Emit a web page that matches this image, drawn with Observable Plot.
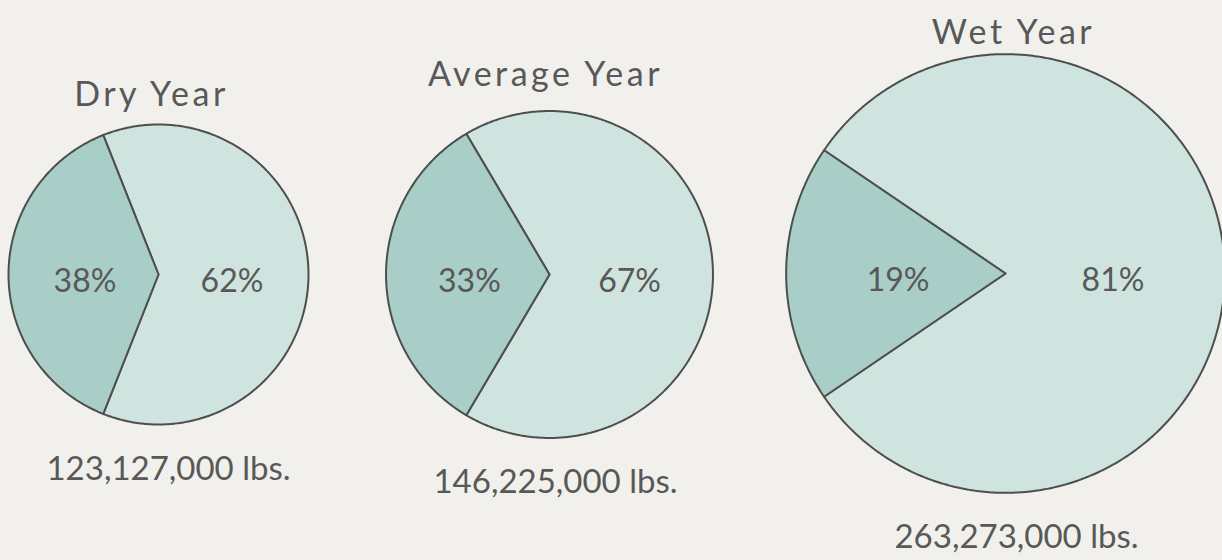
<!DOCTYPE html>
<html>
<head>
<meta charset="utf-8">
<script src="https://cdn.jsdelivr.net/npm/d3@7"></script>
<script src="https://cdn.jsdelivr.net/npm/@observablehq/plot@0.6"></script>
<style>
  html, body { margin: 0; padding: 0; background: #f1f0ec; }
  #chart { width: 1222px; height: 560px; overflow: hidden; }
  #chart svg g[font-size="34"] { letter-spacing: 3.5px; }
</style>
</head>
<body>
<div id="chart"></div>
<script>
// ---- data ----
const years = ["Dry Year", "Average Year", "Wet Year"];
const totals = [123127000, 146225000, 263273000];   // lbs
const smallShare = [38, 33, 19];                    // darker slice, %
const largeShare = [62, 67, 81];                    // lighter slice, %

// ---- layout (not data) ----
const W = 1222, H = 560;
const centerX = [158, 549, 1005];
const centerY = [274, 274, 273];
const baseRadius = 150;                 // radius of the smallest (dry) pie; area ∝ total
const titleX = [151, 545, 1013];
const titleBase = [105, 85, 43];
const amountX = [168, 555, 1016];
const light = "#cfe3df", dark = "#a9cdc7", ink = "#585858", edge = "#4d4f4f";
const titleSize = 34, labelSize = 32;

const pies = years.map((name, i) => {
  const r = baseRadius * Math.sqrt(totals[i] / totals[0]);
  return {name, i, cx: centerX[i], cy: centerY[i], r, total: totals[i]};
});

// slice outlines (dark slice centred on 9 o'clock)
const slicePoints = [];
const pctLabels = [];
pies.forEach(p => {
  const vals = [smallShare[p.i], largeShare[p.i]];
  const sum = d3.sum(vals);
  const start = -Math.PI / 2 - Math.PI * vals[0] / sum;
  const arcs = d3.pie().sort(null).startAngle(start).endAngle(start + 2 * Math.PI)(vals);
  arcs.forEach((a, k) => {
    const id = p.name + "-" + k;
    const kind = k === 0 ? "small" : "large";
    slicePoints.push({id, kind, x: p.cx, y: p.cy});
    const n = Math.max(8, Math.ceil((a.endAngle - a.startAngle) * 90));
    for (let j = 0; j <= n; j++) {
      const t = a.startAngle + (a.endAngle - a.startAngle) * j / n;
      slicePoints.push({id, kind, x: p.cx + p.r * Math.sin(t), y: p.cy - p.r * Math.cos(t)});
    }
    slicePoints.push({id, kind, x: p.cx, y: p.cy});
    const mid = (a.startAngle + a.endAngle) / 2;
    pctLabels.push({
      x: p.cx + 0.49 * p.r * Math.sin(mid),
      y: p.cy + 7,
      text: vals[k] + "%"
    });
  });
});

const titleRows = pies.map(p => ({x: titleX[p.i], y: titleBase[p.i] - 0.32 * titleSize, text: p.name}));
const amountRows = pies.map(p => ({
  x: amountX[p.i],
  y: p.cy + p.r + 55 - 0.32 * labelSize,
  text: d3.format(",")(p.total) + " lbs."
}));

const chart = Plot.plot({
  width: W,
  height: H,
  margin: 0,
  style: {background: "#f1f0ec", fontFamily: "Lato, 'Open Sans', sans-serif", color: ink},
  x: {domain: [0, W], range: [0, W], axis: null},
  y: {domain: [0, H], range: [0, H], axis: null},
  marks: [
    Plot.line(slicePoints.filter(d => d.kind === "large"), {
      x: "x", y: "y", z: "id", fill: light, stroke: edge, strokeWidth: 2, strokeLinejoin: "round"
    }),
    Plot.line(slicePoints.filter(d => d.kind === "small"), {
      x: "x", y: "y", z: "id", fill: dark, stroke: edge, strokeWidth: 2, strokeLinejoin: "round"
    }),
    Plot.text(pctLabels, {x: "x", y: "y", text: "text", fontSize: labelSize, fill: ink}),
    Plot.text(titleRows, {x: "x", y: "y", text: "text", fontSize: titleSize, fill: ink}),
    Plot.text(amountRows, {x: "x", y: "y", text: "text", fontSize: 33, fill: ink})
  ]
});
document.getElementById("chart").appendChild(chart);
</script>
</body>
</html>
